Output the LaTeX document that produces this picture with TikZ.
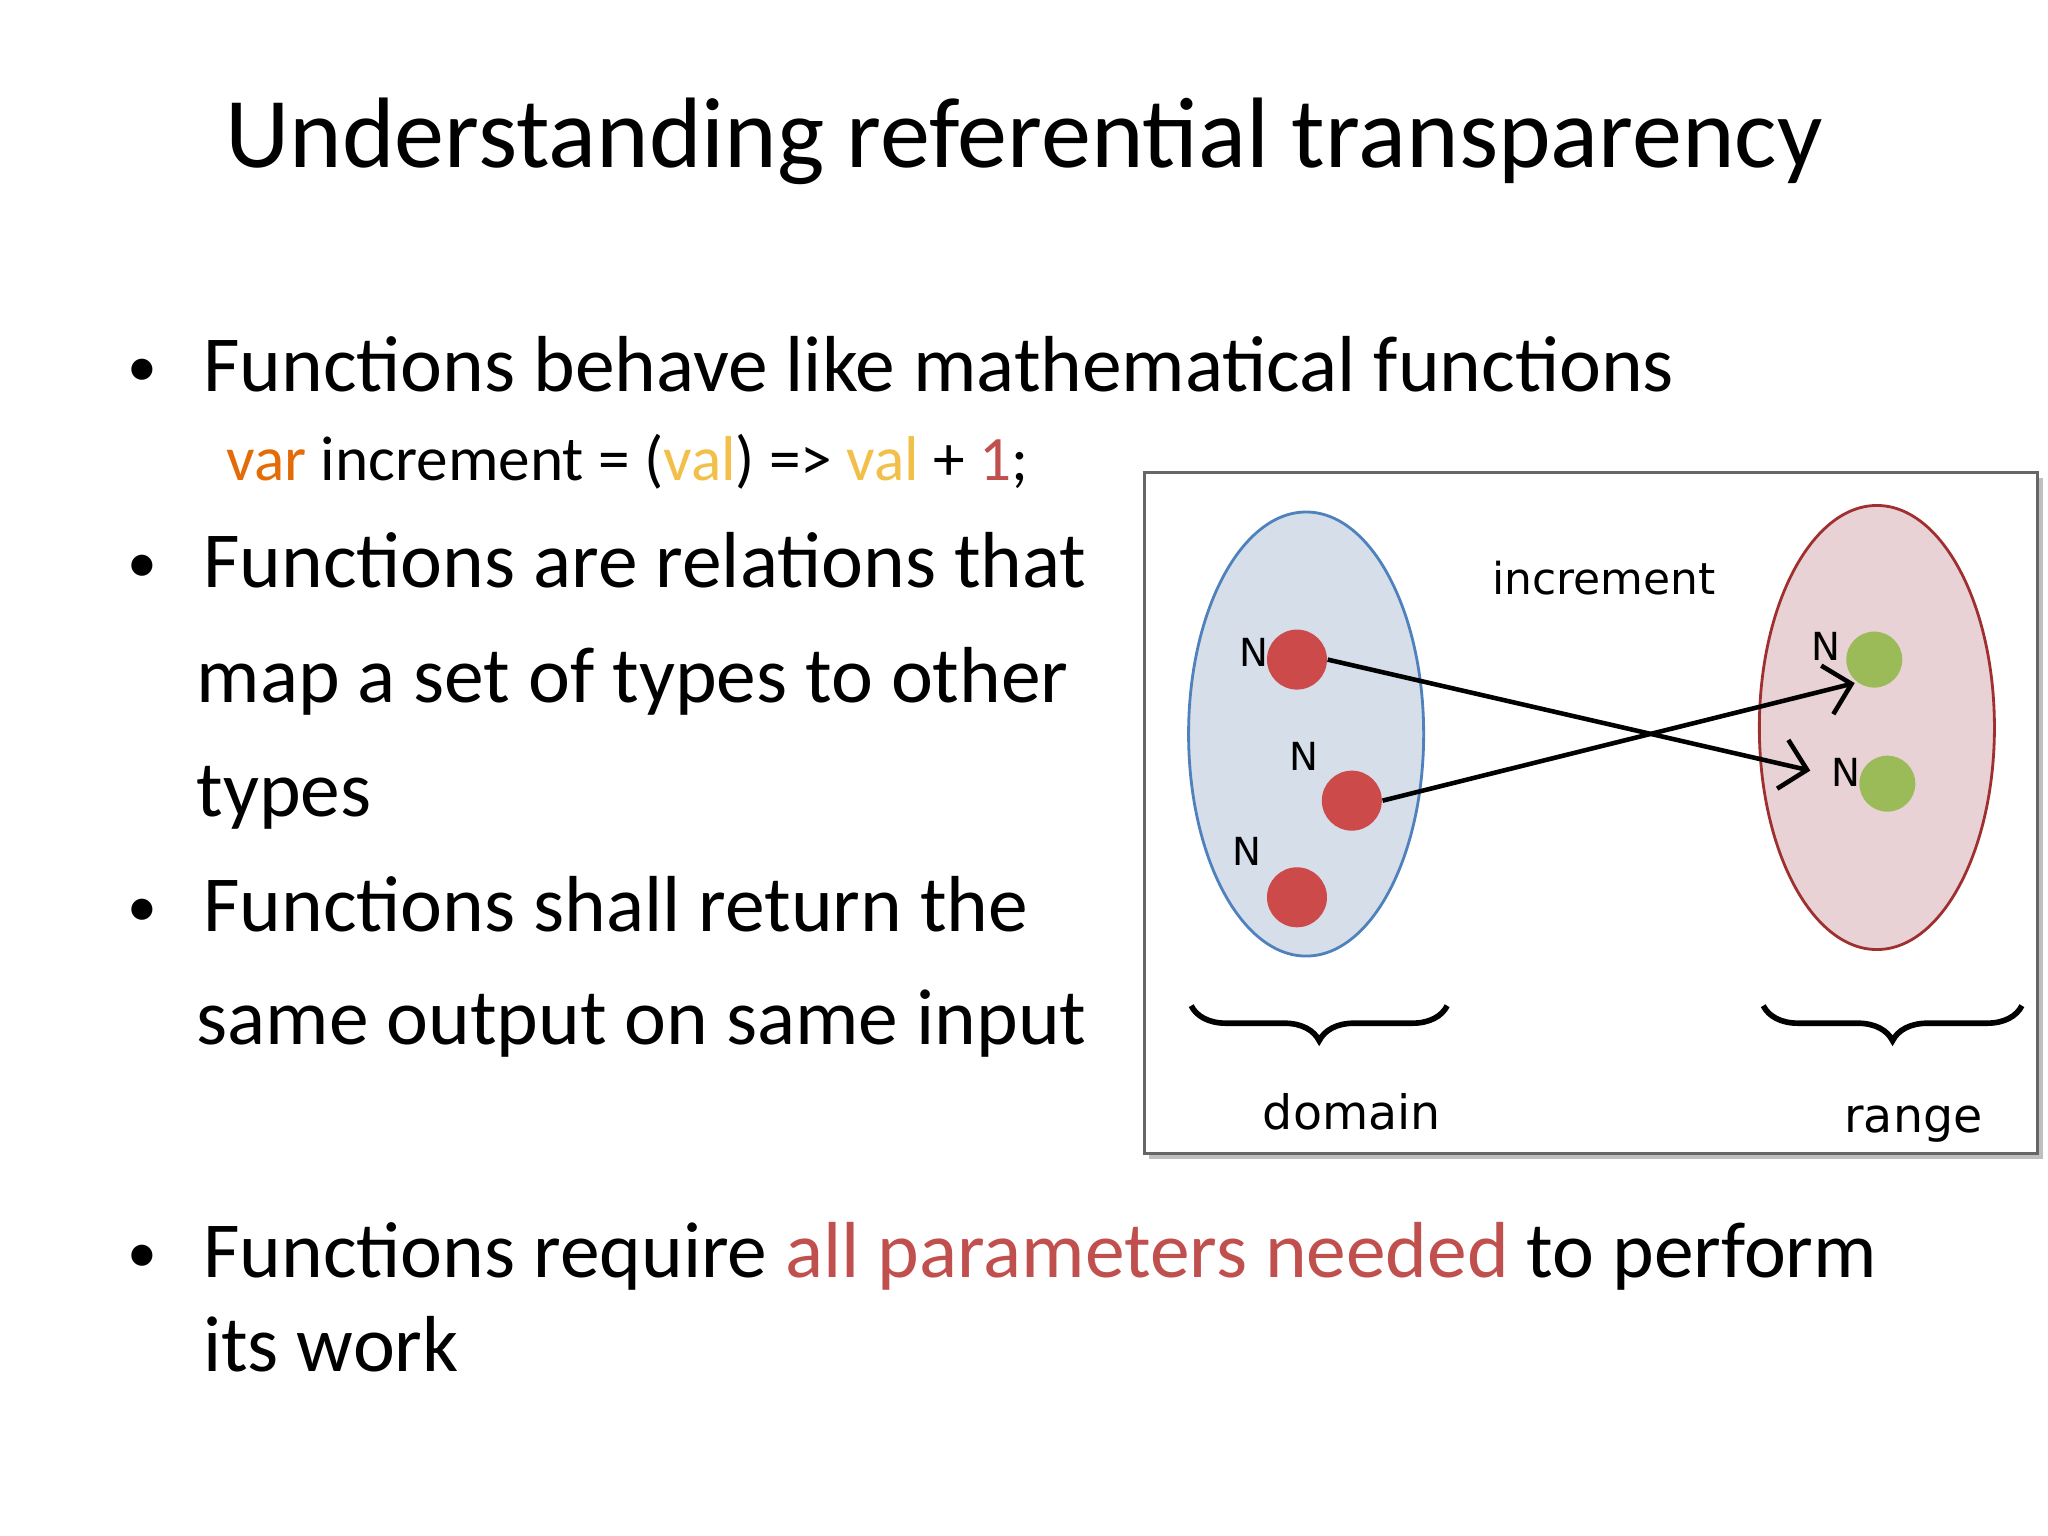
\documentclass[tikz,border=0pt]{standalone}
\usepackage{fontspec}
\setmainfont{Carlito}
\newfontfamily\diagfont{DejaVu Sans}
\usetikzlibrary{arrows.meta, decorations.pathreplacing}
\definecolor{varorange}{HTML}{E36C09}
\definecolor{valgold}{HTML}{F2C04A}
\definecolor{numred}{HTML}{C0504D}
\definecolor{domfill}{HTML}{D6DEEA}
\definecolor{domline}{HTML}{4F81BD}
\definecolor{ranfill}{HTML}{E8D2D5}
\definecolor{ranline}{HTML}{A03030}
\definecolor{dotred}{HTML}{CD4A4A}
\definecolor{dotgreen}{HTML}{9BBB59}
\begin{document}
\begin{tikzpicture}[x=0.01306cm, y=-0.01306cm,
    title/.style={anchor=base, font=\fontsize{28.5}{32}\selectfont},
    bul/.style={anchor=base west, inner sep=0pt, font=\fontsize{22.6}{25}\selectfont},
    code/.style={anchor=base west, inner sep=0pt, font=\fontsize{18}{20}\selectfont},
    lbl/.style={anchor=base, font=\diagfont\fontsize{11}{13}\selectfont},
    dot/.style={circle, inner sep=0pt, minimum size=0.6cm},
    link/.style={-{Straight Barb[length=2.5mm]}, line width=1.3pt},
    curly/.style={decorate, decoration={brace, amplitude=0.35cm}, line width=1.6pt}
  ]
  \useasboundingbox (0,0) rectangle (1568,1176);

  % Title
  \node[title] (ttl) at (784,128) {Understanding referential transparency};

  % Bullets
  \foreach \y in {296,446,709,974}
    \node[bul, font=\fontsize{17}{20}\selectfont] at (97,\y) {\textbullet};
  \node[bul] (b1) at (155,300) {Functions behave like mathematical functions};
  \node[code] (cd) at (173,368) {\textcolor{varorange}{var} increment = (\textcolor{valgold}{val}) => \textcolor{valgold}{val} + \textcolor{numred}{1};};
  \node[bul] (b2) at (155,450) {Functions are relations that};
  \node[bul] (b2a) at (150,538) {map a set of types to other};
  \node[bul] (b2b) at (150,625) {types};
  \node[bul] (b3) at (155,713) {Functions shall return the};
  \node[bul] (b3a) at (150,800) {same output on same input};
  \node[bul] (b4) at (155,978) {Functions require \textcolor{numred}{all parameters needed} to perform};
  \node[bul] (b4a) at (155,1050) {its work};

  % Diagram frame
  \fill[black!25] (880,366) rectangle (1564,887);
  \draw[black!60, fill=white, line width=0.8pt] (876,362) rectangle (1560,883);

  % Sets
  \draw[domline, fill=domfill, line width=0.8pt] (1000,562) ellipse [x radius=90, y radius=170];
  \draw[ranline, fill=ranfill, line width=0.8pt] (1437,557) ellipse [x radius=90, y radius=170];

  % Elements
  \node[dot, fill=dotred] (d1) at (993,505) {};
  \node[dot, fill=dotred] (d2) at (1035,613) {};
  \node[dot, fill=dotred] (d3) at (993,687) {};
  \node[dot, fill=dotgreen, minimum size=0.56cm] (r1) at (1435,505) {};
  \node[dot, fill=dotgreen, minimum size=0.56cm] (r2) at (1445,600) {};
  \coordinate (t1) at (1420,523);
  \coordinate (t2) at (1386,590);

  \node[lbl] at (960,510) {N};
  \node[lbl] at (998,590) {N};
  \node[lbl] at (955,663) {N};
  \node[lbl] at (1398,506) {N};
  \node[lbl] at (1413,602) {N};
  \node[lbl, font=\diagfont\fontsize{12.5}{14}\selectfont] (fn) at (1228,455) {increment};

  % Mapping
  \draw[link] (d1.east) -- (t2);
  \draw[link] (d2.east) -- (t1);

  % Braces
  \draw[curly] (1108,770) -- (912,770);
  \draw[curly] (1548,770) -- (1350,770);
  \node[lbl, font=\diagfont\fontsize{13.5}{15}\selectfont] (dm) at (1035,865) {domain};
  \node[lbl, font=\diagfont\fontsize{13.5}{15}\selectfont] (rg) at (1465,867) {range};
\end{tikzpicture}
\end{document}
